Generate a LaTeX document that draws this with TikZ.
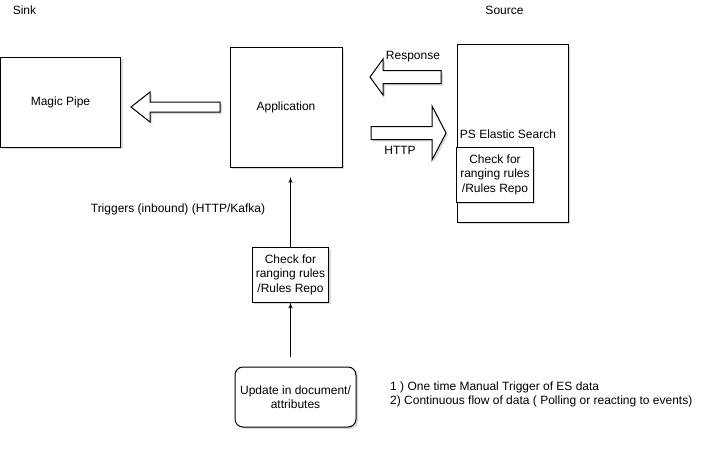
\documentclass[tikz,border=0pt]{standalone}
\usepackage{fontspec}
\setmainfont{Liberation Sans}
\usetikzlibrary{positioning,arrows,shadows}
\tikzset{
box/.style={
  draw,
  rectangle,
  fill=white,
  align=center,
  line width=1pt,
  drop shadow={shadow xshift=2pt, shadow yshift=-2pt, fill=black!25, opacity=0.6}
  },
label/.style={
  align=left,
  inner sep=0pt
  },
fat/.style={
  draw,
  fill=white,
  line width=1pt,
  line join=miter,
  drop shadow={shadow xshift=2pt, shadow yshift=-2pt, fill=black!25, opacity=0.6}
  },
line/.style={->,>=latex',line width=1pt}
}

\begin{document}
\begin{tikzpicture}[x=1pt,y=-1pt,font=\fontsize{12}{14.5}\selectfont]
\useasboundingbox (0,0) rectangle (722,459);
% headings
\node[label](sink) at (24.5,10){Sink};
\node[label](source) at (504.5,10){Source};
% boxes
\node[box, minimum width=120pt, minimum height=90pt](pipe) at (60.5,102){Magic Pipe};
\node[box, minimum width=112pt, minimum height=120pt](app) at (286,107){Application};
\node[box, minimum width=111pt, minimum height=178pt](es) at (512.5,133){};
\node[label](estext) at (508,134){PS Elastic Search};
\node[box, minimum width=76pt, minimum height=55pt](eschk) at (495,174.5){Check for\\ranging rules\\/Rules Repo};
\node[box, minimum width=76pt, minimum height=55pt](chk) at (290.5,274.5){Check for\\ranging rules\\/Rules Repo};
\node[box, rounded corners=8pt, minimum width=121pt, minimum height=60pt](upd) at (295.5,397){Update in document/\\attributes};
% texts
\node[label](trig) at (178,209){Triggers (inbound) (HTTP/Kafka)};
\node[label, anchor=west, align=left](note) at (390,394.5){1 ) One time Manual Trigger of ES data\\2) Continuous flow of data ( Polling or reacting to events)};
\node[label](resp) at (413,57){Response};
\node[label](http) at (400,150){HTTP};
% hollow arrows
\draw[fat] (220,102) -- (150,102) -- (150,92) -- (131,107) -- (150,122) -- (150,112) -- (220,112) -- cycle;
\draw[fat] (441,70.5) -- (383,70.5) -- (383,59) -- (370,77) -- (383,95) -- (383,83.5) -- (441,83.5) -- cycle;
\draw[fat] (371,126.5) -- (432,126.5) -- (432,106) -- (446,133) -- (432,160) -- (432,139.5) -- (371,139.5) -- cycle;
% triggers
\coordinate (apptip) at (290.5,177);
\coordinate (updtop) at (290.5,357);
\draw[line] (chk.north) -- (apptip);
\draw[line] (updtop) -- (chk.south);
\end{tikzpicture}
\end{document}
